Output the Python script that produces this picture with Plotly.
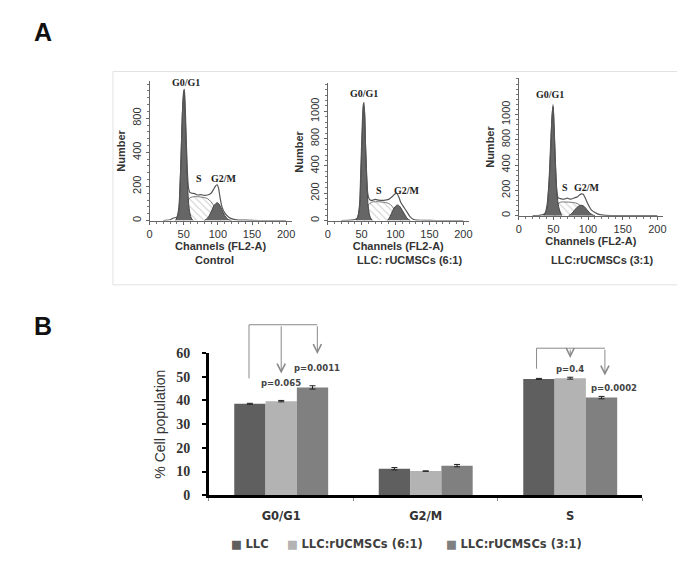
import plotly.graph_objects as go

W, H = 685, 581

# ---------------- Panel A: DNA histograms ----------------
# Control
ctrl_env_ch = [20, 30, 35, 40, 43, 46, 48, 50, 51, 53, 55, 57, 59, 62, 66, 70, 75, 80, 85, 90, 94, 97, 99, 101, 103, 106, 110, 116, 122, 130, 140, 160, 200]
ctrl_env_n = [0, 5, 15, 20, 80, 350, 620, 760, 770, 560, 320, 190, 165, 160, 158, 150, 152, 148, 150, 160, 185, 205, 210, 190, 140, 80, 45, 20, 8, 3, 2, 0, 0]
ctrl_g1_ch = [38, 42, 45, 47, 49, 50.5, 52, 54, 56, 58, 61, 64]
ctrl_g1_n = [0, 40, 250, 500, 700, 755, 640, 400, 180, 70, 15, 0]
ctrl_s_ch = [50, 53, 56, 60, 65, 70, 75, 80, 85, 90, 95, 100, 104]
ctrl_s_n = [0, 80, 120, 135, 140, 140, 138, 135, 128, 110, 80, 35, 0]
ctrl_g2_ch = [80, 85, 90, 94, 97, 99, 101, 104, 108, 112, 116, 120]
ctrl_g2_n = [0, 15, 50, 85, 100, 105, 100, 80, 45, 18, 5, 0]

# LLC : rUCMSCs (6:1)
r6_env_ch = [20, 35, 40, 44, 47, 49, 51, 52.5, 53.5, 55, 57, 59, 61, 63, 66, 70, 75, 80, 85, 90, 95, 99, 102, 105, 108, 112, 116, 121, 126, 131, 140, 160, 200]
r6_env_n = [0, 3, 8, 20, 120, 400, 700, 850, 864, 650, 380, 200, 160, 150, 148, 155, 150, 148, 150, 155, 175, 195, 198, 170, 130, 100, 70, 31, 10, 3, 2, 0, 0]
r6_g1_ch = [42, 46, 49, 51, 53, 54, 56, 58, 60, 63, 66]
r6_g1_n = [0, 60, 350, 650, 840, 820, 520, 250, 90, 20, 0]
r6_s_ch = [54, 57, 60, 65, 70, 75, 80, 85, 90, 95, 100, 104, 108]
r6_s_n = [0, 70, 115, 135, 138, 138, 136, 132, 125, 105, 60, 20, 0]
r6_g2_ch = [88, 92, 96, 100, 103, 106, 110, 114, 118, 122]
r6_g2_n = [0, 30, 75, 105, 114, 105, 75, 40, 12, 0]

# LLC : rUCMSCs (3:1)
r3_env_ch = [20, 30, 35, 38, 41, 44, 46, 48, 49.5, 51, 53, 55, 57, 60, 65, 70, 75, 80, 85, 88, 91, 93, 96, 100, 105, 110, 117, 125, 140, 160, 200]
r3_env_n = [0, 3, 8, 20, 90, 300, 550, 780, 877, 700, 400, 190, 140, 135, 130, 138, 130, 140, 150, 165, 172, 170, 140, 90, 44, 25, 8, 3, 1, 0, 0]
r3_g1_ch = [36, 40, 43, 46, 48, 49.5, 51, 53, 55, 58, 62]
r3_g1_n = [0, 40, 200, 520, 780, 860, 690, 400, 190, 60, 0]
r3_s_ch = [52, 55, 58, 62, 67, 72, 77, 82, 87, 92, 96, 100]
r3_s_n = [0, 70, 100, 108, 108, 107, 105, 100, 88, 60, 25, 0]
r3_g2_ch = [72, 76, 80, 84, 88, 91, 94, 98, 102, 106, 110]
r3_g2_n = [0, 15, 40, 65, 80, 82, 75, 50, 25, 8, 0]

hist_captions = ["Control", "LLC: rUCMSCs (6:1)", "LLC:rUCMSCs (3:1)"]
x_ticks = [0, 50, 100, 150, 200]
y_tickvals_1 = [0, 200, 400, 600]
y_ticktext_1 = ["0", "200", "400", "800"]
y_tickvals_23 = [0, 200, 400, 600, 800]
y_ticktext_23 = ["0", "200", "400", "800", "1000"]

# ---------------- Panel B: bar chart ----------------
phases = ["G0/G1", "G2/M", "S"]
series_names = ["LLC", "LLC:rUCMSCs (6:1)", "LLC:rUCMSCs (3:1)"]
llc = [38.6, 11.2, 49.1]
llc_err = [0.2, 0.5, 0.2]
r6 = [39.7, 10.2, 49.4]
r6_err = [0.3, 0.1, 0.4]
r3 = [45.5, 12.5, 41.2]
r3_err = [0.7, 0.5, 0.5]
bar_colors = ["#5f5f5f", "#b3b3b3", "#808080"]
y_bar_ticks = [0, 10, 20, 30, 40, 50, 60]


def px(x):
    return x / W


def py(y):
    return 1 - y / H


fig = go.Figure()

DARK = "#666666"
EDGE = "#444444"

panels = [
    (ctrl_env_ch, ctrl_env_n, ctrl_g1_ch, ctrl_g1_n, ctrl_s_ch, ctrl_s_n, ctrl_g2_ch, ctrl_g2_n),
    (r6_env_ch, r6_env_n, r6_g1_ch, r6_g1_n, r6_s_ch, r6_s_n, r6_g2_ch, r6_g2_n),
    (r3_env_ch, r3_env_n, r3_g1_ch, r3_g1_n, r3_s_ch, r3_s_n, r3_g2_ch, r3_g2_n),
]

for i, (ech, en, g1c, g1n, sc, sn, g2c, g2n) in enumerate(panels):
    xa = "x" if i == 0 else f"x{i+1}"
    ya = "y" if i == 0 else f"y{i+1}"
    fig.add_trace(go.Scatter(x=sc, y=sn, xaxis=xa, yaxis=ya, mode="lines", fill="tozeroy",
                             line=dict(color="#777777", width=1, shape="spline"),
                             fillcolor="white",
                             fillpattern=dict(shape="\\", fgcolor="#9a9a9a", bgcolor="white", size=5, solidity=0.2),
                             showlegend=False, hoverinfo="skip"))
    fig.add_trace(go.Scatter(x=g1c, y=g1n, xaxis=xa, yaxis=ya, mode="lines", fill="tozeroy",
                             line=dict(color=EDGE, width=1, shape="spline"), fillcolor=DARK,
                             showlegend=False, hoverinfo="skip"))
    fig.add_trace(go.Scatter(x=g2c, y=g2n, xaxis=xa, yaxis=ya, mode="lines", fill="tozeroy",
                             line=dict(color=EDGE, width=1, shape="spline"), fillcolor=DARK,
                             showlegend=False, hoverinfo="skip"))
    fig.add_trace(go.Scatter(x=ech, y=en, xaxis=xa, yaxis=ya, mode="lines",
                             line=dict(color="#555555", width=1.2, shape="spline", smoothing=0.6),
                             showlegend=False, hoverinfo="skip"))

# bars
for name, vals, errs, col in zip(series_names, [llc, r6, r3], [llc_err, r6_err, r3_err], bar_colors):
    fig.add_trace(go.Bar(x=phases, y=vals, name=name, marker=dict(color=col, line=dict(width=0)),
                         error_y=dict(type="data", array=errs, color="#222222", thickness=1, width=3),
                         xaxis="x4", yaxis="y4", showlegend=False))

tick_font = dict(family="Liberation Sans", size=11, color="#333333")
title_font = dict(family="Liberation Sans", size=11, color="#333333", weight="bold")

hist_common_x = dict(showline=True, linecolor="#666666", linewidth=1, ticks="outside", ticklen=3,
                     tickcolor="#666666", showgrid=False, zeroline=False, tickfont=tick_font,
                     tickvals=x_ticks, minor=dict(dtick=10, ticks="outside", ticklen=2, tickcolor="#777777"),
                     title=dict(text="Channels (FL2-A)", font=title_font, standoff=1))
hist_common_y = dict(showline=True, linecolor="#666666", linewidth=1, ticks="outside", ticklen=3,
                     tickcolor="#666666", showgrid=False, zeroline=False, tickfont=tick_font,
                     tickangle=-90,
                     minor=dict(dtick=40, ticks="outside", ticklen=2, tickcolor="#777777"),
                     title=dict(text="Number", font=title_font, standoff=3))

layout = dict(
    width=W, height=H, margin=dict(l=0, r=0, t=0, b=0),
    paper_bgcolor="white", plot_bgcolor="rgba(0,0,0,0)",
    barmode="group", bargap=0.35, bargroupgap=0,
    showlegend=False,
    xaxis=dict(hist_common_x, domain=[px(140), px(140 + 208 * 0.69)], range=[0, 208], anchor="y"),
    yaxis=dict(hist_common_y, domain=[py(211), py(68)], range=[0, 817], anchor="x",
               tickvals=y_tickvals_1, ticktext=y_ticktext_1),
    xaxis2=dict(hist_common_x, domain=[px(320), px(320 + 208 * 0.685)], range=[0, 208], anchor="y2"),
    yaxis2=dict(hist_common_y, domain=[py(211), py(70)], range=[0, 1007], anchor="x2",
                tickvals=y_tickvals_23, ticktext=y_ticktext_23),
    xaxis3=dict(hist_common_x, domain=[px(513), px(513 + 208 * 0.70)], range=[0, 208], anchor="y3"),
    yaxis3=dict(hist_common_y, domain=[py(206), py(65)], range=[0, 1085], anchor="x3",
                tickvals=y_tickvals_23, ticktext=y_ticktext_23),
    xaxis4=dict(domain=[px(200), px(638)], anchor="y4", range=[-0.5, 2.5], type="category",
                showline=True, linecolor="black", linewidth=3, ticks="outside", tickson="boundaries",
                ticklen=3, tickcolor="#888888", tickwidth=1, showgrid=False, zeroline=False,
                ticklabelstandoff=8,
                tickfont=dict(family="DejaVu Sans", size=11.5, color="#333333", weight="bold")),
    yaxis4=dict(domain=[py(493), py(347)], anchor="x4", range=[0, 60], tickvals=y_bar_ticks,
                showline=True, linecolor="black", linewidth=3, ticks="outside", ticklen=4,
                tickcolor="black", tickwidth=2, showgrid=False, zeroline=False,
                ticklabelstandoff=9,
                tickfont=dict(family="Liberation Serif", size=14, color="#333333", weight="bold"),
                title=dict(text="% Cell population", standoff=8,
                           font=dict(family="Liberation Sans", size=14, color="#333333"))),
)
fig.update_layout(**layout)

# Panel A box
fig.add_shape(type="rect", xref="paper", yref="paper", x0=px(103), x1=px(680), y0=py(277), y1=py(58),
              line=dict(color="#e2e2e2", width=1), layer="below")

annots = []
annots.append(dict(text="<b>A</b>", x=px(21), y=py(17), xref="paper", yref="paper", xanchor="left",
                   yanchor="middle", showarrow=False,
                   font=dict(family="Liberation Sans", size=25, color="#111111")))
annots.append(dict(text="<b>B</b>", x=px(21), y=py(319), xref="paper", yref="paper", xanchor="left",
                   yanchor="middle", showarrow=False,
                   font=dict(family="Liberation Sans", size=25, color="#111111")))

# captions under histograms
for cx, txt in zip([206, 403, 597], hist_captions):
    annots.append(dict(text=f"<b>{txt}</b>", x=px(cx), y=py(252), xref="paper", yref="paper",
                       showarrow=False, xanchor="center", yanchor="middle",
                       font=dict(family="Liberation Sans", size=11, color="#333333")))

# phase labels on histograms (data coordinates)
lab_font = dict(family="Liberation Serif", size=10, color="#222222")
phase_labels = [
    ("x", "y", [(53, 811, "G0/G1"), (72.5, 246, "S"), (108.7, 246, "G2/M")]),
    ("x2", "y2", [(53.6, 930, "G0/G1"), (75.5, 221, "S"), (116.8, 221, "G2/M")]),
    ("x3", "y3", [(45.7, 956, "G0/G1"), (67, 225, "S"), (98, 225, "G2/M")]),
]
for xa, ya, items in phase_labels:
    for xv, yv, t in items:
        annots.append(dict(text=f"<b>{t}</b>", x=xv, y=yv, xref=xa, yref=ya, showarrow=False,
                           xanchor="center", yanchor="middle", font=lab_font))

# significance brackets (category index on x, domain fraction on y)
BR = "#8a8a8a"
brackets = [
    (0 - 0.223, 1.199, 0.822, 0.25),
    (2 - 0.233, 1.034, 0.890, 2.24),
]
for xl, yt, yb, xr in brackets:
    fig.add_shape(type="line", xref="x4", yref="y4 domain", x0=xl, x1=xr, y0=yt, y1=yt,
                  line=dict(color=BR, width=1))
    fig.add_shape(type="line", xref="x4", yref="y4 domain", x0=xl, x1=xl, y0=yt, y1=yb,
                  line=dict(color=BR, width=1))

arrows = [
    (0.0, 1.199, 0.856),
    (0.25, 1.199, 0.993),
    (2.0, 1.034, 0.966),
    (2.24, 1.034, 0.842),
]
for xv, yt, yh in arrows:
    annots.append(dict(x=xv, y=yh, ax=xv, ay=yt, xref="x4", yref="y4 domain", axref="x4",
                       ayref="y4 domain", showarrow=True, arrowhead=5, arrowsize=1.6, arrowwidth=1,
                       arrowcolor=BR, text=""))

pfont = dict(family="DejaVu Sans", size=8.5, color="#444444")
pvals = [(0.0, 0.788, "p=0.065"), (0.25, 0.897, "p=0.0011"), (2.0, 0.89, "p=0.4"), (2.3, 0.753, "p=0.0002")]
for xv, yv, t in pvals:
    annots.append(dict(text=f"<b>{t}</b>", x=xv, y=yv, xref="x4", yref="y4 domain", showarrow=False,
                       xanchor="center", yanchor="middle", font=pfont))

# custom legend
leg_x = [220, 277, 437]
for lx, name, col in zip(leg_x, series_names, bar_colors):
    annots.append(dict(text=f"<span style='color:{col}'>■</span> <b>{name}</b>", x=px(lx), y=py(543),
                       xref="paper", yref="paper", xanchor="left", yanchor="middle", showarrow=False,
                       font=dict(family="DejaVu Sans", size=11.5, color="#404040")))

fig.update_layout(annotations=annots)
fig.write_html("out.html")
